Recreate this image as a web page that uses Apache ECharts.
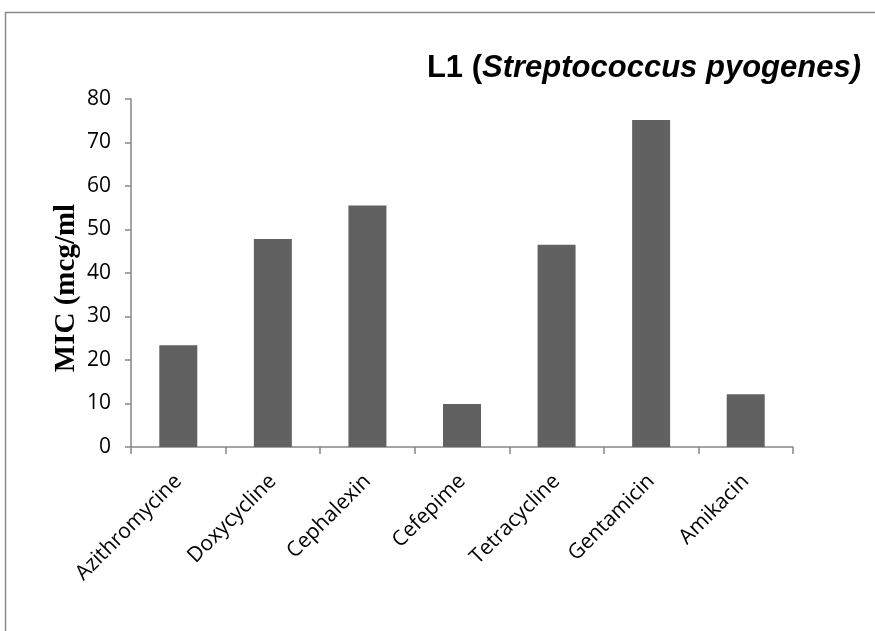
<!DOCTYPE html>
<html><head><meta charset="utf-8">
<script src="https://cdn.jsdelivr.net/npm/echarts@6/dist/echarts.min.js"></script>
<style>html,body{margin:0;padding:0;background:#fff}#c{width:875px;height:631px}</style>
</head><body><div id="c"></div>
<script>
const categories = ["Azithromycine","Doxycycline","Cephalexin","Cefepime","Tetracycline","Gentamicin","Amikacin"];
const micValues = [23.4, 47.8, 55.5, 9.9, 46.5, 75.2, 12.1];
const yTicks = {min: 0, max: 80, interval: 10};

const chart = echarts.init(document.getElementById('c'));
chart.setOption({
  animation: false,
  backgroundColor: '#fff',
  title: {
    text: '{a|L1 (}{b|Streptococcus pyogenes)}',
    right: 9, top: 48,
    textStyle: {
      rich: {
        a: {fontFamily: 'Liberation Sans, Arial', fontWeight: 'bold', fontSize: 31, color: '#000'},
        b: {fontFamily: 'Liberation Sans, Arial', fontWeight: 'bold', fontStyle: 'italic', fontSize: 31, color: '#000'}
      }
    }
  },
  graphic: [
    {type: 'rect', shape: {x: 5.5, y: 12.5, width: 900, height: 700}, style: {fill: 'none', stroke: '#8a8a8a', lineWidth: 1.5}, silent: true},
    {type: 'text', x: 67, y: 288, rotation: Math.PI/2, style: {text: 'MIC (mcg/ml', fontFamily: 'Liberation Serif, Times New Roman', fontWeight: 'bold', fontSize: 29, fill: '#000', textAlign: 'center', textVerticalAlign: 'middle'}}
  ],
  grid: {left: 131, top: 99, right: 82, bottom: 184},
  xAxis: {
    type: 'category', data: categories,
    axisLine: {lineStyle: {color: '#868686', width: 1.5}},
    axisTick: {show: true, length: 7, lineStyle: {color: '#868686', width: 1.5}},
    axisLabel: {rotate: 45, interval: 0, fontFamily: 'Open Sans, Noto Sans', fontSize: 21, color: '#000', margin: 31}
  },
  yAxis: {
    type: 'value', min: yTicks.min, max: yTicks.max, interval: yTicks.interval,
    axisLine: {show: true, lineStyle: {color: '#868686', width: 1.5}},
    axisTick: {show: true, length: 6, lineStyle: {color: '#868686', width: 1.5}},
    splitLine: {show: false},
    axisLabel: {fontFamily: 'Open Sans, Noto Sans', fontSize: 21, color: '#000', margin: 20}
  },
  series: [{
    type: 'bar', data: micValues, barWidth: 38,
    itemStyle: {color: '#616161'}
  }]
});
</script></body></html>
